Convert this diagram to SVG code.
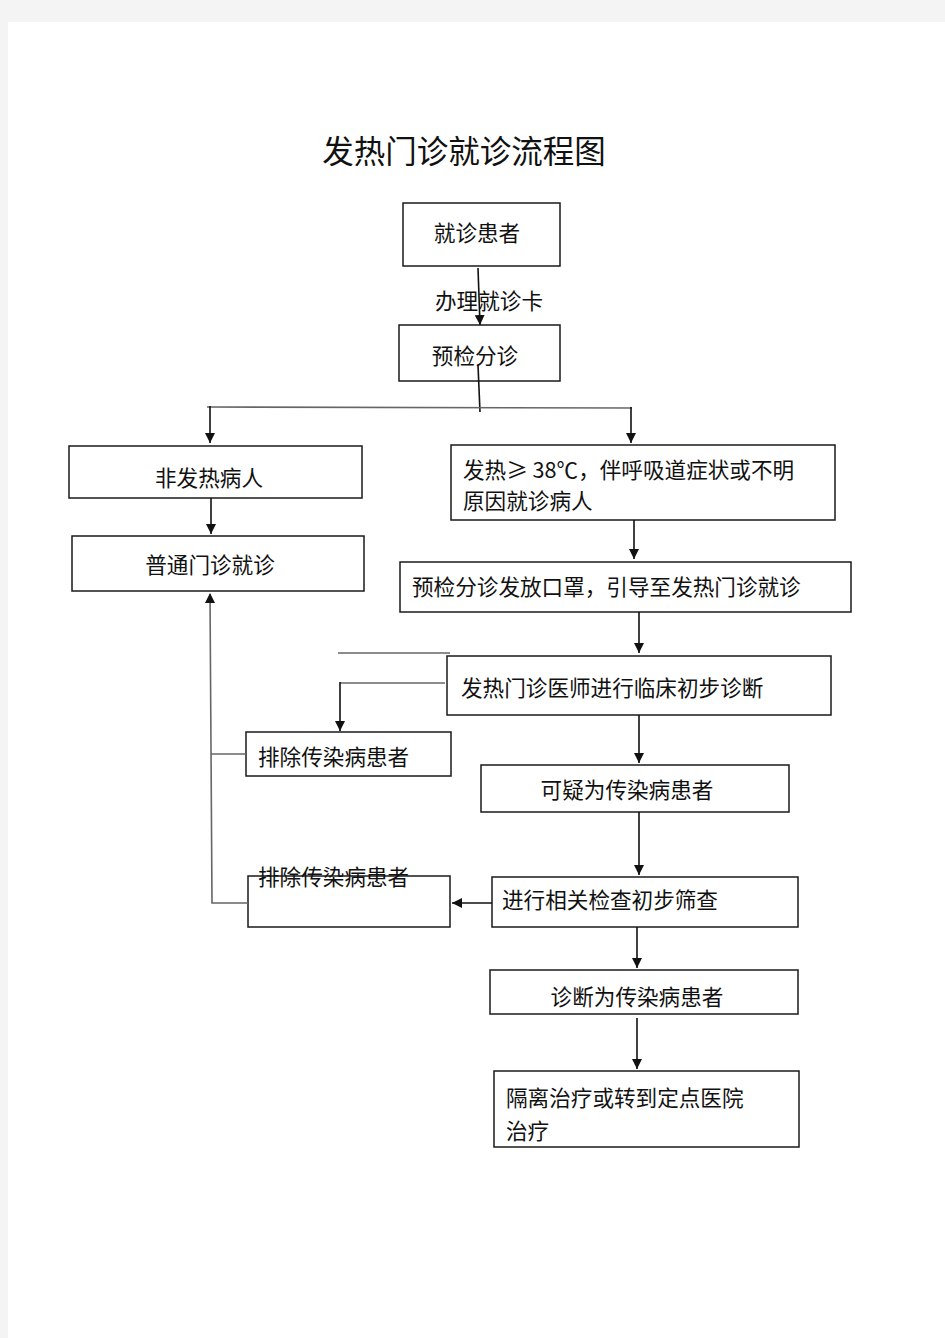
<svg xmlns="http://www.w3.org/2000/svg" width="945" height="1338" viewBox="0 0 945 1338">
<defs>
<style>
.box{fill:#fff;stroke:#1a1a1a;stroke-width:1.5}
.t{font-family:"Noto Sans CJK SC","Liberation Serif",serif;font-size:21.6px;fill:#111}
.tc{text-anchor:middle}
.ln{fill:none;stroke:#111;stroke-width:1.6}
.lg{fill:none;stroke:#666;stroke-width:1.6}
</style>
<marker id="ah" viewBox="0 0 10 10" refX="10" refY="5" markerWidth="10" markerHeight="10" markerUnits="userSpaceOnUse" orient="auto">
<path d="M0,0 L10,5 L0,10 z" fill="#111"/>
</marker>
</defs>
<rect x="0" y="0" width="945" height="1338" fill="#f4f4f4"/>
<rect x="8" y="22" width="937" height="1316" fill="#fff"/>
<text x="464" y="163" text-anchor="middle" font-family="Noto Sans CJK SC, Liberation Serif, serif" font-size="31.5" fill="#111">发热门诊就诊流程图</text>

<g id="n1"><rect class="box" x="403" y="203" width="157" height="63"/><text class="t tc" x="477" y="241">就诊患者</text></g>
<g id="n2"><rect class="box" x="399" y="325" width="161" height="56"/><text class="t tc" x="475" y="364">预检分诊</text></g>
<g id="n3"><rect class="box" x="69" y="446" width="293" height="52"/><text class="t tc" x="209" y="486">非发热病人</text></g>
<g id="n4"><rect class="box" x="72" y="536" width="292" height="55"/><text class="t tc" x="210" y="573">普通门诊就诊</text></g>
<g id="n5"><rect class="box" x="451" y="445" width="384" height="75"/><text class="t" x="463" y="478">发热≥ 38℃，伴呼吸道症状或不明</text><text class="t" x="463" y="509">原因就诊病人</text></g>
<g id="n6"><rect class="box" x="400" y="562" width="451" height="50"/><text class="t" x="412" y="595">预检分诊发放口罩，引导至发热门诊就诊</text></g>
<g id="n7"><rect class="box" x="447" y="656" width="384" height="59"/><text class="t" x="461" y="696">发热门诊医师进行临床初步诊断</text></g>
<g id="n8"><rect class="box" x="246" y="732" width="205" height="44"/><text class="t" x="258" y="765">排除传染病患者</text></g>
<g id="n9"><rect class="box" x="481" y="765" width="308" height="47"/><text class="t tc" x="627" y="798">可疑为传染病患者</text></g>
<g id="n10"><rect class="box" x="492" y="877" width="306" height="50"/><text class="t" x="502" y="908">进行相关检查初步筛查</text></g>
<g id="n11"><rect class="box" x="248" y="876" width="202" height="51"/><text class="t" x="258" y="885">排除传染病患者</text></g>
<g id="n12"><rect class="box" x="490" y="970" width="308" height="44"/><text class="t tc" x="637" y="1005">诊断为传染病患者</text></g>
<g id="n13"><rect class="box" x="494" y="1071" width="305" height="76"/><text class="t" x="506" y="1106">隔离治疗或转到定点医院</text><text class="t" x="506" y="1139">治疗</text></g>

<g id="connectors">
<line class="ln" x1="478" y1="268" x2="480" y2="325" marker-end="url(#ah)"/>
<text class="t" x="435" y="309">办理就诊卡</text>
<line class="ln" x1="478" y1="365" x2="480" y2="412"/>
<polyline class="lg" points="207,407 632,408"/>
<line class="ln" x1="210" y1="406" x2="210" y2="443" marker-end="url(#ah)"/>
<line class="ln" x1="631" y1="407" x2="631" y2="443" marker-end="url(#ah)"/>
<line class="ln" x1="211" y1="498" x2="211" y2="534" marker-end="url(#ah)"/>
<line class="ln" x1="634" y1="520" x2="634" y2="559" marker-end="url(#ah)"/>
<line class="ln" x1="639" y1="612" x2="639" y2="653" marker-end="url(#ah)"/>
<line class="lg" x1="338" y1="653" x2="450" y2="653" stroke="#444"/>
<line class="lg" x1="340" y1="683" x2="445" y2="683" stroke="#999"/>
<line class="ln" x1="340" y1="682" x2="340" y2="731" marker-end="url(#ah)"/>
<line class="ln" x1="639" y1="715" x2="639" y2="763" marker-end="url(#ah)"/>
<line class="ln" x1="639" y1="812" x2="639" y2="875" marker-end="url(#ah)"/>
<line class="ln" x1="492" y1="903" x2="452" y2="903" marker-end="url(#ah)"/>
<polyline class="lg" points="248,903 212,903 210,594" stroke="#444"/>
<path d="M205,603 L210,593 L215,603 z" fill="#111"/>
<line class="lg" x1="211" y1="754" x2="246" y2="754" stroke="#444"/>
<line class="ln" x1="637" y1="927" x2="637" y2="968" marker-end="url(#ah)"/>
<line class="ln" x1="637" y1="1018" x2="637" y2="1069" marker-end="url(#ah)"/>
</g>
</svg>
